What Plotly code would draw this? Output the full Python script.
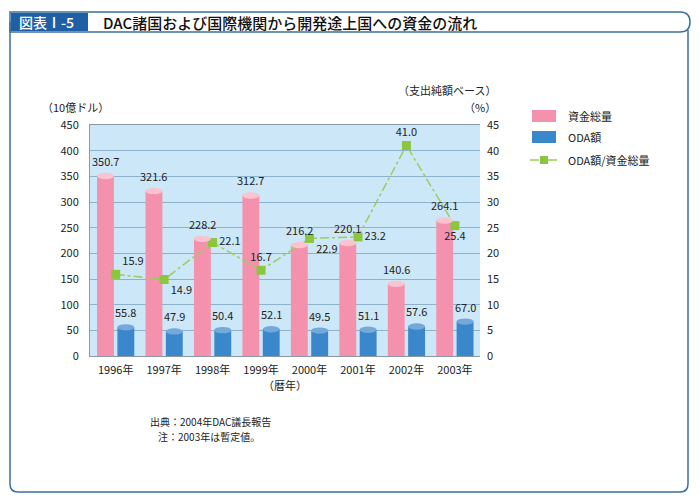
import plotly.graph_objects as go

years = ["1996年", "1997年", "1998年", "1999年", "2000年", "2001年", "2002年", "2003年"]
total_flow = [350.7, 321.6, 228.2, 312.7, 216.2, 220.1, 140.6, 264.1]
oda = [55.8, 47.9, 50.4, 52.1, 49.5, 51.1, 57.6, 67.0]
ratio = [15.9, 14.9, 22.1, 16.7, 22.9, 23.2, 41.0, 25.4]
ratio_pos = ["top right", "bottom right", "middle right", "top center",
             "bottom right", "middle right", "top center", "bottom center"]
left_ticks = [0, 50, 100, 150, 200, 250, 300, 350, 400, 450]
right_ticks = [0, 5, 10, 15, 20, 25, 30, 35, 40, 45]

FONT = "Noto Sans CJK JP, Noto Sans, sans-serif"
PINK = "#f492ad"
PINK_TOP = "#f9c3d0"
BLUE = "#3a87cc"
BLUE_TOP = "#74a9dc"
GREEN = "#9acd5e"
FRAME = "#3d6f9c"

L, R, T, B = 90, 220, 125, 148
W, H = 700, 504
PW, PH = W - L - R, H - T - B


def px(x):
    return (x - L) / PW


def py(y):
    return (H - B - y) / PH


fig = go.Figure()
fig.add_trace(go.Bar(x=years, y=total_flow, name="資金総量", marker_color=PINK,
                     marker_line_width=0, hoverinfo="skip"))
fig.add_trace(go.Bar(x=years, y=oda, name="ODA額", marker_color=BLUE,
                     marker_line_width=0, hoverinfo="skip"))
fig.add_trace(go.Scatter(x=years, y=ratio, yaxis="y2", name="ODA額/資金総量",
                         mode="lines+markers+text",
                         line=dict(color=GREEN, width=1.5, dash="dashdot"),
                         marker=dict(symbol="square", size=9, color="#8cc63f"),
                         text=[f"{v:.1f}" for v in ratio], textposition=ratio_pos,
                         cliponaxis=False, hoverinfo="skip",
                         textfont=dict(size=11, color="#222", family=FONT)))

shapes = []
annotations = []
# cylinder tops and value labels derived from data
unit_per_px = 450 / PH
eh = 3.2 * unit_per_px
for i, (a, b) in enumerate(zip(total_flow, oda)):
    for c, v, col in ((i - 0.21, a, PINK_TOP), (i + 0.21, b, BLUE_TOP)):
        shapes.append(dict(type="circle", xref="x", yref="y", x0=c - 0.175, x1=c + 0.175,
                           y0=v - eh, y1=v + eh, fillcolor=col, line=dict(width=0), layer="above"))
        annotations.append(dict(x=c, y=v, xref="x", yref="y", text=f"{v:.1f}", showarrow=False,
                                yanchor="bottom", yshift=5,
                                font=dict(size=11, color="#222", family=FONT)))

# outer frame
shapes.append(dict(type="path", xref="paper", yref="paper",
                   path=f"M {px(10)},{py(22)} L {px(10)},{py(484)} Q {px(10)},{py(492)} {px(18)},{py(492)} "
                        f"L {px(680)},{py(492)} Q {px(688)},{py(492)} {px(688)},{py(484)} L {px(688)},{py(30)}",
                   line=dict(color=FRAME, width=1.5)))
# title bar pill
shapes.append(dict(type="path", xref="paper", yref="paper",
                   path=f"M {px(10)},{py(12)} L {px(680)},{py(12)} Q {px(690)},{py(12)} {px(690)},{py(22)} "
                        f"Q {px(690)},{py(32)} {px(680)},{py(32)} L {px(10)},{py(32)} Z",
                   line=dict(color=FRAME, width=1.5), fillcolor="white", layer="below"))
shapes.append(dict(type="rect", xref="paper", yref="paper", x0=px(11), x1=px(88), y0=py(31), y1=py(13),
                   fillcolor="#1f5fa6", line=dict(width=0)))
# legend swatches
shapes.append(dict(type="rect", xref="paper", yref="paper", x0=px(532), x1=px(556), y0=py(122), y1=py(110),
                   fillcolor=PINK, line=dict(width=0)))
shapes.append(dict(type="rect", xref="paper", yref="paper", x0=px(532), x1=px(556), y0=py(143), y1=py(131),
                   fillcolor=BLUE, line=dict(width=0)))
shapes.append(dict(type="line", xref="paper", yref="paper", x0=px(530), x1=px(558), y0=py(160), y1=py(160),
                   line=dict(color=GREEN, width=1.5, dash="dashdot")))
shapes.append(dict(type="rect", xref="paper", yref="paper", x0=px(540), x1=px(548), y0=py(164), y1=py(156),
                   fillcolor="#8cc63f", line=dict(width=0)))


def ann(x, y, text, size=11, color="#222", xanchor="left", weight="normal"):
    return dict(x=px(x), y=py(y), xref="paper", yref="paper", text=text, showarrow=False,
                xanchor=xanchor, yanchor="middle",
                font=dict(size=size, color=color, family=FONT, weight=weight))


annotations += [
    ann(17, 22, "図表Ⅰ-5", 14, "white", weight=500),
    ann(101, 22, "DAC諸国および国際機関から開発途上国への資金の流れ", 15, "#111", weight=500),
    ann(40, 107, "（10億ドル）", 11),
    ann(498, 90, "（支出純額ベース）", 11, xanchor="right"),
    ann(498, 107, "（%）", 11, xanchor="right"),
    ann(285, 385, "（暦年）", 11, xanchor="center"),
    ann(566, 116, "資金総量", 11),
    ann(566, 137, "ODA額", 11),
    ann(566, 160, "ODA額/資金総量", 11),
    ann(148, 422, "出典：2004年DAC議長報告", 10),
    ann(156, 436, "注：2003年は暫定値。", 10),
]

fig.update_layout(
    width=W, height=H, margin=dict(l=L, r=R, t=T, b=B),
    paper_bgcolor="white", plot_bgcolor="#cce8f8",
    barmode="group", bargap=0.16, bargroupgap=0.17,
    showlegend=False, shapes=shapes, annotations=annotations,
    hovermode=False,
    font=dict(family=FONT, size=11, color="#222"),
    xaxis=dict(showgrid=False, showline=True, linecolor="#8a9aa8", mirror=True,
               tickfont=dict(size=11), ticks="", ticklabelstandoff=4, fixedrange=True),
    yaxis=dict(range=[0, 450], tickvals=left_ticks, gridcolor="#8fb2cc", gridwidth=1,
               showline=True, linecolor="#8a9aa8", zeroline=False, ticks="",
               tickfont=dict(size=11), ticklabelstandoff=8, fixedrange=True),
    yaxis2=dict(range=[0, 45], tickvals=right_ticks, overlaying="y", side="right",
                showgrid=False, zeroline=False, ticks="", tickfont=dict(size=11),
                ticklabelstandoff=6, fixedrange=True),
)

fig.write_html("out.html", config={"displayModeBar": False},
               post_script="document.body.style.margin='0';")
